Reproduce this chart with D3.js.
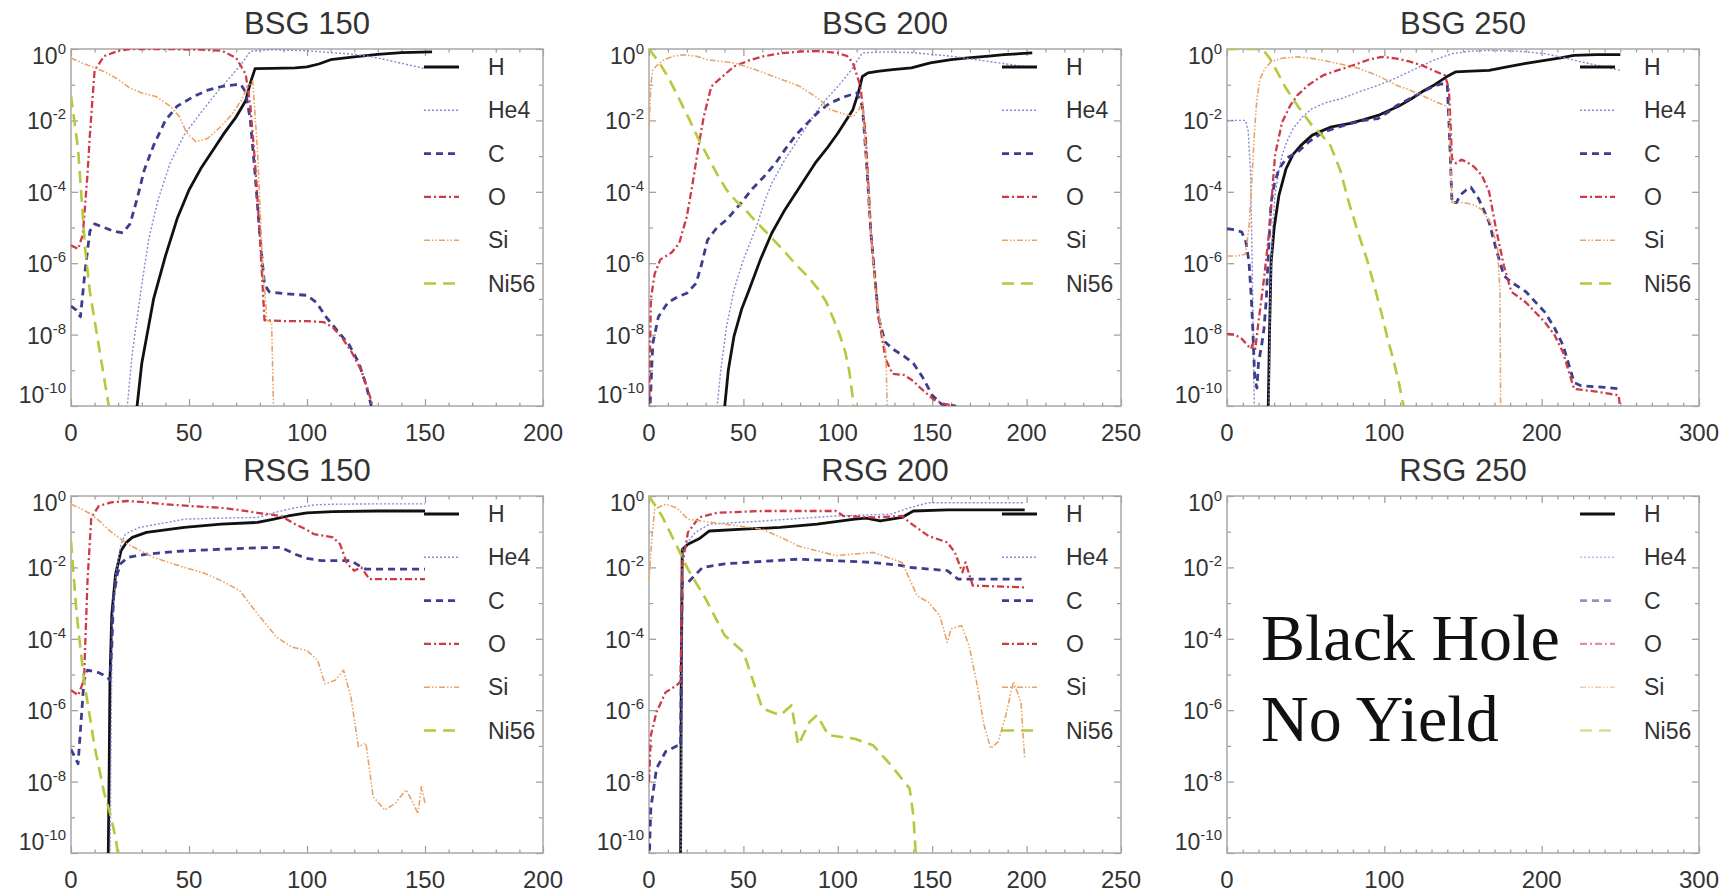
<!DOCTYPE html>
<html><head><meta charset="utf-8">
<script src="https://cdn.jsdelivr.net/npm/d3@7"></script>
<style>body{margin:0;background:#fff} svg{display:block}</style>
</head><body>
<svg id="chart" width="1735" height="894"></svg>
<script>
// ---------- DATA (x = mass coordinate, value = log10 mass fraction) ----------
const titles = ["BSG 150", "BSG 200", "BSG 250", "RSG 150", "RSG 200", "RSG 250"];
const xMaxes = [200, 250, 300, 200, 250, 300];
const xMajorSteps = [50, 50, 100, 50, 50, 100];
const species = ["H", "He4", "C", "O", "Si", "Ni56"];
const yTickExponents = [0, -2, -4, -6, -8, -10];
const noYieldText = ["Black Hole", "No Yield"];

// BSG 150
const bsg150H = [[27,-10.6],[30,-8.8],[35,-7.0],[40,-5.8],[45,-4.75],[50,-3.95],[55,-3.35],[60,-2.85],[65,-2.35],[70,-1.9],[74,-1.45],[76,-0.95],[78,-0.55],[85,-0.54],[95,-0.53],[100,-0.5],[105,-0.42],[110,-0.3],[120,-0.22],[130,-0.15],[140,-0.1],[153,-0.08]];
const bsg150He4 = [[23,-10.6],[26,-8.5],[30,-6.6],[33,-5.3],[37,-4.2],[42,-3.2],[48,-2.4],[56,-1.7],[62,-1.2],[68,-0.75],[73,-0.35],[76,-0.06],[85,-0.02],[100,-0.05],[110,-0.1],[120,-0.15],[130,-0.25],[140,-0.4],[150,-0.55]];
const bsg150C = [[0,-7.2],[2,-7.3],[4,-7.5],[6,-6.2],[8,-5.1],[10,-4.9],[14,-5.0],[18,-5.1],[22,-5.15],[25,-4.9],[28,-4.2],[31,-3.4],[35,-2.7],[40,-2.0],[45,-1.6],[52,-1.33],[58,-1.15],[64,-1.05],[70,-1.0],[72,-1.0],[74,-1.2],[76,-2.0],[78,-3.5],[80,-5.2],[82,-6.6],[84,-6.8],[90,-6.85],[100,-6.9],[104,-7.1],[108,-7.5],[113,-7.9],[118,-8.3],[122,-8.8],[125,-9.4],[128,-10.2],[130,-10.6]];
const bsg150O = [[0,-5.5],[3,-5.6],[5,-5.2],[7,-3.5],[8,-2.4],[10,-0.6],[14,-0.2],[20,-0.05],[25,0],[40,0],[55,-0.02],[64,-0.05],[70,-0.25],[74,-0.7],[76,-1.6],[78,-3.2],[80,-5.2],[82,-7.6],[90,-7.62],[100,-7.62],[107,-7.65],[111,-7.8],[115,-8.1],[119,-8.5],[123,-9.0],[127,-9.8],[130,-10.6]];
const bsg150Si = [[0,-0.25],[5,-0.4],[9,-0.5],[14,-0.63],[20,-0.85],[25,-1.1],[30,-1.23],[36,-1.33],[42,-1.6],[46,-1.9],[49,-2.35],[53,-2.6],[58,-2.5],[63,-2.2],[68,-1.85],[72,-1.45],[75,-1.05],[77,-0.9],[79,-2.8],[81,-5.8],[83,-7.6],[85,-7.65],[86,-10.6]];
const bsg150Ni56 = [[0,-1.3],[3,-2.8],[6,-5.6],[8,-6.8],[11,-8.0],[14,-9.2],[16,-10.0],[17,-10.6]];

// BSG 200
const bsg200H = [[39,-10.6],[42,-9.0],[45,-8.05],[49,-7.3],[53,-6.75],[59,-5.9],[65,-5.16],[72,-4.5],[80,-3.85],[88,-3.2],[94,-2.8],[100,-2.36],[105,-1.95],[108,-1.7],[111,-1.2],[113,-0.77],[116,-0.67],[122,-0.62],[129,-0.58],[139,-0.53],[149,-0.39],[160,-0.3],[169,-0.25],[180,-0.2],[188,-0.16],[203,-0.11]];
const bsg200He4 = [[35,-10.6],[38,-9.0],[41,-7.8],[45,-6.75],[50,-5.9],[57,-4.97],[61,-4.3],[65,-3.76],[72,-3.1],[80,-2.45],[88,-1.8],[94,-1.4],[100,-1.05],[107,-0.6],[113,-0.11],[125,-0.08],[139,-0.1],[160,-0.2],[180,-0.35],[200,-0.5]];
const bsg200C = [[0,-10.6],[1,-9.5],[2,-8.25],[5,-7.5],[10,-7.1],[15,-6.95],[20,-6.84],[25,-6.56],[28,-6.0],[31,-5.35],[36,-5.0],[41,-4.79],[49,-4.3],[55,-3.9],[61,-3.57],[67,-3.2],[72,-2.82],[78,-2.4],[84,-2.07],[90,-1.75],[96,-1.51],[104,-1.33],[110,-1.23],[113,-1.6],[115,-3.0],[117.6,-5.2],[121.5,-7.5],[125,-8.2],[129,-8.4],[135,-8.6],[140,-8.8],[145,-9.2],[150,-9.7],[155,-9.95],[162,-10.0],[166,-10.6]];
const bsg200O = [[0,-10.6],[0.5,-8.5],[1,-7.0],[3,-6.3],[6,-5.9],[12,-5.7],[16,-5.44],[20,-4.7],[23,-3.8],[26,-2.8],[29,-1.9],[33,-1.05],[37,-0.86],[45,-0.49],[53,-0.32],[61,-0.2],[70,-0.12],[80,-0.07],[90,-0.06],[100,-0.11],[105,-0.2],[108,-0.39],[112,-1.05],[114.7,-2.36],[117.6,-5.2],[121.5,-7.5],[125.4,-8.7],[129,-9.1],[135,-9.13],[140,-9.3],[143,-9.46],[151,-9.83],[157,-9.95],[163,-10.0],[166,-10.6]];
const bsg200Si = [[0,-2.2],[1,-1.0],[2,-0.58],[5,-0.42],[8,-0.3],[13,-0.2],[18,-0.16],[25,-0.2],[31,-0.3],[45,-0.39],[55,-0.55],[61,-0.67],[70,-0.85],[80,-1.05],[90,-1.4],[96,-1.7],[102,-1.8],[108,-1.9],[111,-1.7],[113,-1.5],[115,-3.0],[117.6,-5.2],[120,-6.8],[123.5,-8.0],[125.5,-8.5],[126.4,-10.6]];
const bsg200Ni56 = [[0,0],[5,-0.35],[10,-0.77],[16,-1.4],[21.6,-2.0],[26,-2.5],[31,-3.0],[36,-3.5],[41,-3.94],[46,-4.25],[51,-4.5],[56,-4.8],[61,-5.07],[67,-5.4],[72.5,-5.72],[78,-6.05],[84,-6.37],[90,-6.75],[94,-7.1],[98,-7.6],[101,-8.0],[104,-8.5],[106,-9.0],[108,-9.8],[109,-10.6]];

// BSG 250
const bsg250H = [[26,-10.6],[27,-8.0],[28,-6.0],[30,-5.0],[33,-4.1],[37.5,-3.36],[42,-2.95],[47,-2.7],[54,-2.42],[60,-2.3],[65.7,-2.19],[77.5,-2.09],[87,-1.98],[96,-1.86],[103,-1.72],[110,-1.58],[117,-1.4],[124,-1.2],[132,-1.0],[141,-0.74],[145.5,-0.64],[155,-0.62],[166.6,-0.6],[178,-0.5],[190,-0.4],[202,-0.32],[212,-0.25],[220.6,-0.18],[235,-0.16],[250,-0.16]];
const bsg250He4 = [[0,-2.0],[6,-2.0],[11.7,-2.0],[13.5,-2.3],[15,-3.5],[16,-6],[17,-9],[17.6,-10.6],[26.5,-10.6],[27.5,-7.0],[29,-5.0],[30.5,-4.1],[33,-3.4],[35,-2.98],[38,-2.6],[42,-2.23],[48,-1.9],[54,-1.67],[63,-1.5],[72.8,-1.39],[84,-1.2],[96,-1.02],[108,-0.8],[120,-0.55],[131,-0.32],[143,-0.13],[155,-0.06],[166.6,-0.04],[185,-0.06],[202,-0.13],[215,-0.25],[225,-0.36],[240,-0.5],[250,-0.6]];
const bsg250C = [[0,-5.04],[5,-5.06],[9.4,-5.13],[12,-5.4],[14,-5.97],[15.5,-7.0],[16.4,-7.84],[17.6,-9.2],[19,-9.5],[20,-8.8],[22,-8.3],[23.5,-7.84],[25,-7.0],[26,-6.0],[28,-4.3],[30,-3.8],[33,-3.36],[38,-3.05],[44.6,-2.9],[52,-2.6],[61,-2.33],[70,-2.2],[77.5,-2.1],[87,-2.0],[96,-1.95],[103,-1.75],[108,-1.58],[115,-1.42],[120,-1.3],[125,-1.18],[131,-1.05],[136,-0.98],[140,-0.98],[141.5,-2.5],[143,-4.3],[146,-4.3],[148,-4.1],[152,-3.95],[155,-3.87],[160,-4.2],[166.6,-4.85],[171,-5.6],[176,-6.35],[180.7,-6.53],[190,-6.8],[202,-7.37],[208,-7.8],[213.6,-8.3],[217,-8.8],[220.6,-9.34],[225,-9.43],[240,-9.48],[250,-9.52]];
const bsg250O = [[0,-7.98],[5,-8.0],[9.4,-8.12],[13,-8.3],[15.3,-8.4],[16.4,-8.25],[18,-8.4],[20,-7.65],[23.5,-6.44],[27,-5.04],[30.5,-2.98],[35,-2.05],[40,-1.6],[44.6,-1.3],[52,-1.0],[61,-0.74],[70,-0.6],[80,-0.46],[90,-0.3],[98.6,-0.22],[108,-0.27],[116,-0.35],[124,-0.46],[131,-0.6],[138.5,-0.74],[141,-1.1],[142,-2.0],[143,-3.07],[145.5,-3.2],[149,-3.1],[152.6,-3.17],[157,-3.3],[162,-3.54],[166.6,-4.0],[171,-5.04],[176,-6.07],[180.7,-6.8],[190,-7.1],[202,-7.65],[208,-8.0],[213.6,-8.5],[217,-9.0],[220.6,-9.52],[235,-9.6],[249,-9.7],[251,-10.6]];
const bsg250Si = [[0,-5.8],[6,-5.8],[11.7,-5.75],[14,-5.0],[16,-3.5],[17.6,-2.23],[19,-1.4],[21,-0.83],[24,-0.55],[28,-0.36],[35,-0.26],[44.6,-0.22],[55,-0.27],[61,-0.32],[72,-0.42],[84.5,-0.55],[96,-0.75],[108,-1.02],[116,-1.15],[124,-1.3],[131,-1.45],[138.5,-1.58],[141,-1.7],[143,-4.3],[150,-4.3],[156,-4.35],[162,-4.5],[168,-4.9],[172,-5.6],[173.5,-6.8],[174,-10.6]];
const bsg250Ni56 = [[0,0],[10,0],[18,0],[23.5,-0.05],[27,-0.25],[32,-0.65],[37.5,-1.1],[45,-1.6],[54,-2.14],[60,-2.4],[65.7,-2.7],[72,-3.4],[77.5,-4.3],[83,-5.1],[89,-5.9],[94,-6.7],[98.6,-7.47],[102,-8.1],[105.6,-8.68],[109,-9.3],[112.7,-10.1],[114,-10.6]];

// RSG 150
const rsg150H = [[15.7,-10.6],[16.2,-7.5],[16.5,-5.16],[17.3,-3.3],[18.9,-2.19],[21.2,-1.53],[23.5,-1.3],[26,-1.16],[32,-1.02],[40,-0.95],[48,-0.88],[63.6,-0.79],[79,-0.74],[86,-0.65],[92,-0.56],[100,-0.47],[111,-0.44],[130,-0.42],[150,-0.42]];
const rsg150He4 = [[16.5,-10.6],[17,-6.5],[17.5,-3.5],[19,-2.19],[21,-1.4],[23,-1.07],[29,-0.88],[40,-0.75],[48,-0.65],[63.6,-0.62],[79,-0.6],[87,-0.45],[95,-0.33],[103,-0.25],[111,-0.23],[130,-0.22],[150,-0.22]];
const rsg150C = [[0,-7.1],[3,-7.5],[5.5,-5.16],[7,-4.88],[11.8,-4.95],[15,-5.05],[16.5,-5.16],[17.3,-4.2],[18,-2.84],[19.6,-2.19],[21,-1.9],[24,-1.72],[32,-1.63],[45,-1.55],[63.6,-1.49],[80,-1.45],[89,-1.44],[95,-1.63],[100,-1.75],[106,-1.81],[112,-1.81],[118.6,-1.81],[122,-1.95],[125,-2.05],[150,-2.05]];
const rsg150O = [[0,-5.44],[3,-5.58],[5.5,-5.16],[7,-2.37],[8.6,-0.6],[11.8,-0.28],[17,-0.18],[24,-0.14],[32,-0.18],[40,-0.23],[50,-0.28],[63.6,-0.33],[72,-0.4],[79,-0.47],[89,-0.56],[95,-0.79],[100,-0.95],[103,-1.07],[108,-1.12],[111,-1.16],[114,-1.35],[117,-1.9],[120,-2.09],[123,-2.0],[126.5,-2.33],[150,-2.33]];
const rsg150Si = [[0,-0.23],[4,-0.35],[8.6,-0.51],[12,-0.7],[16.5,-0.98],[24,-1.35],[35,-1.72],[48,-2.0],[56,-2.15],[63.6,-2.37],[71.5,-2.65],[79,-3.3],[84,-3.7],[87,-3.95],[93.5,-4.23],[100,-4.33],[104.5,-4.6],[107.6,-5.26],[112,-5.16],[115.5,-4.88],[118.6,-5.63],[121.8,-7.02],[125,-6.93],[128,-8.42],[133,-8.8],[137.5,-8.6],[142,-8.23],[145,-8.6],[147,-8.9],[148.5,-8.14],[150,-8.6]];
const rsg150Ni56 = [[0,-1.26],[2.4,-3.3],[5.5,-5.16],[10,-7.02],[14,-8.3],[16.5,-8.88],[19,-9.6],[21,-10.6]];

// RSG 200
const rsg200H = [[16.7,-10.6],[17.1,-5],[17.6,-1.5],[20.6,-1.35],[26.5,-1.2],[32,-0.98],[50,-0.93],[69.6,-0.88],[89,-0.79],[109,-0.65],[115,-0.62],[122.5,-0.7],[134,-0.6],[140,-0.42],[158,-0.39],[199,-0.39]];
const rsg200He4 = [[16.9,-10.6],[17.3,-5],[17.6,-1.5],[24.5,-1.02],[32,-0.79],[60,-0.7],[99,-0.56],[128,-0.51],[138,-0.33],[148,-0.19],[199,-0.19]];
const rsg200C = [[0,-10.6],[0.5,-9.5],[1,-8.74],[4,-7.63],[8.8,-7.16],[14.7,-7.0],[16.7,-7.0],[17.6,-2.42],[20.6,-2.42],[28.4,-2.0],[40,-1.9],[79,-1.77],[118.6,-1.86],[134,-1.95],[138,-2.0],[158,-2.09],[163.7,-2.33],[199,-2.33]];
const rsg200O = [[0,-8.0],[1,-6.7],[4,-6.05],[8.8,-5.5],[14.7,-5.3],[16.7,-5.2],[17.6,-1.95],[20.6,-1.02],[26.5,-0.6],[36,-0.47],[60,-0.42],[99,-0.42],[103,-0.56],[118.6,-0.6],[134,-0.56],[138,-0.74],[148,-1.12],[158,-1.3],[162,-1.58],[166,-2.14],[167.6,-1.86],[171.5,-2.51],[199,-2.56]];
const rsg200Si = [[0,-2.4],[1.5,-1.2],[3,-0.37],[8.8,-0.23],[14.7,-0.33],[20.6,-0.65],[40,-0.79],[60,-0.93],[71.5,-1.2],[79,-1.4],[99,-1.67],[118.6,-1.58],[134,-1.86],[142,-2.79],[148,-2.98],[154,-3.35],[158,-4.1],[160,-3.72],[165.6,-3.63],[169.5,-4.19],[173.5,-5.2],[177.4,-6.4],[181,-7.07],[185,-6.88],[189,-6.14],[193,-5.2],[197,-5.77],[199,-7.35]];
const rsg200Ni56 = [[0,0],[6.9,-0.56],[14.7,-1.4],[20.6,-2.05],[30,-2.88],[40,-3.9],[50,-4.37],[60,-5.95],[69.6,-6.14],[75.5,-5.86],[79,-6.98],[85,-6.33],[89,-6.14],[95,-6.7],[109,-6.8],[118.6,-6.98],[128,-7.53],[138,-8.19],[140,-8.93],[142,-10.6]];

// RSG 250: black hole, no yield
const rsg250H = [], rsg250He4 = [], rsg250C = [], rsg250O = [], rsg250Si = [], rsg250Ni56 = [];

const panelSeries = [
  [bsg150H, bsg150He4, bsg150C, bsg150O, bsg150Si, bsg150Ni56],
  [bsg200H, bsg200He4, bsg200C, bsg200O, bsg200Si, bsg200Ni56],
  [bsg250H, bsg250He4, bsg250C, bsg250O, bsg250Si, bsg250Ni56],
  [rsg150H, rsg150He4, rsg150C, rsg150O, rsg150Si, rsg150Ni56],
  [rsg200H, rsg200He4, rsg200C, rsg200O, rsg200Si, rsg200Ni56],
  [rsg250H, rsg250He4, rsg250C, rsg250O, rsg250Si, rsg250Ni56]
];

// ---------- STYLE ----------
const colors = ["#111111", "#8787d8", "#3d3d8e", "#cf3a48", "#eba264", "#b7c83c"];
const dashes = [null, "2,2", "7,5", "7,3,2,3", "6,2,1.5,2,1.5,2", "12,7"];
const widths = [2.8, 1.4, 2.8, 2.3, 1.6, 2.6];
const FONT = "'Liberation Sans', Arial, Helvetica, sans-serif";
const TXT = "#333";

const svg = d3.select("#chart");
const panelLefts = [71, 649, 1227];
const panelTops = [49, 496];
const W = 472, H = 357;

titles.forEach((title, i) => {
  const col = i % 3, row = Math.floor(i / 3);
  const x0 = panelLefts[col], y0 = panelTops[row];
  const g = svg.append("g").attr("transform", `translate(${x0},${y0})`);
  const xMax = xMaxes[i];
  const x = d3.scaleLinear().domain([0, xMax]).range([0, W]);
  const y = d3.scaleLog().domain([1e-10, 1]).range([H, 0]);

  const cid = "clip" + i;
  g.append("clipPath").attr("id", cid).append("rect").attr("width", W).attr("height", H);

  g.append("text").attr("x", W / 2).attr("y", -15).attr("text-anchor", "middle")
    .attr("font-family", FONT).attr("font-size", 31).attr("fill", TXT).text(title);

  const majors = d3.range(0, xMax + 0.1, xMajorSteps[i]);
  const minors = d3.range(0, xMax + 0.1, 10).filter(v => !majors.includes(v));
  const yMajors = yTickExponents.map(e => Math.pow(10, e));
  const yMinors = [-1, -3, -5, -7, -9].map(e => Math.pow(10, e));
  const tickStyle = sel => { sel.select(".domain").remove(); sel.selectAll("line").attr("stroke", "#9a9a9a").attr("stroke-width", 1.2); sel.selectAll("text").remove(); };

  g.append("g").attr("transform", `translate(0,${H})`).call(d3.axisBottom(x).tickValues(majors).tickSize(-7).tickFormat("")).call(tickStyle);
  g.append("g").attr("transform", `translate(0,${H})`).call(d3.axisBottom(x).tickValues(minors).tickSize(-3.5).tickFormat("")).call(tickStyle);
  g.append("g").call(d3.axisTop(x).tickValues(majors).tickSize(-7).tickFormat("")).call(tickStyle);
  g.append("g").call(d3.axisTop(x).tickValues(minors).tickSize(-3.5).tickFormat("")).call(tickStyle);
  g.append("g").call(d3.axisLeft(y).tickValues(yMajors).tickSize(-7).tickFormat("")).call(tickStyle);
  g.append("g").call(d3.axisLeft(y).tickValues(yMinors).tickSize(-4).tickFormat("")).call(tickStyle);
  g.append("g").attr("transform", `translate(${W},0)`).call(d3.axisRight(y).tickValues(yMajors).tickSize(-7).tickFormat("")).call(tickStyle);
  g.append("g").attr("transform", `translate(${W},0)`).call(d3.axisRight(y).tickValues(yMinors).tickSize(-4).tickFormat("")).call(tickStyle);

  g.append("rect").attr("width", W).attr("height", H).attr("fill", "none")
    .attr("stroke", "#a8a8a8").attr("stroke-width", 1.5);

  majors.forEach(v => {
    g.append("text").attr("x", x(v)).attr("y", H + 35).attr("text-anchor", "middle")
      .attr("font-family", FONT).attr("font-size", 24).attr("fill", TXT).text(v);
  });
  yTickExponents.forEach((e, k) => {
    let off = 9;
    if (k === 0) off = 15;
    if (k === yTickExponents.length - 1) off = -3;
    const t = g.append("text").attr("x", -5).attr("y", y(Math.pow(10, e)) + off)
      .attr("text-anchor", "end").attr("font-family", FONT).attr("fill", TXT);
    t.append("tspan").attr("font-size", 23).text("10");
    t.append("tspan").attr("font-size", 15).attr("dy", -10).text(e === 0 ? "0" : "-" + Math.abs(e));
  });

  const line = d3.line().x(d => x(d[0])).y(d => y(Math.pow(10, d[1])));
  const lg = g.append("g").attr("clip-path", `url(#${cid})`);
  panelSeries[i].forEach((data, s) => {
    if (!data.length) return;
    lg.append("path").attr("d", line(data)).attr("fill", "none")
      .attr("stroke", colors[s]).attr("stroke-width", widths[s])
      .attr("stroke-dasharray", dashes[s]).attr("stroke-linejoin", "round");
  });

  species.forEach((name, s) => {
    const ly = 18 + s * 43.3;
    g.append("line").attr("x1", 353).attr("x2", 388).attr("y1", ly).attr("y2", ly)
      .attr("stroke", colors[s]).attr("stroke-width", widths[s]).attr("stroke-dasharray", dashes[s])
      .attr("opacity", (i === 5 && s > 0) ? 0.55 : 1);
    g.append("text").attr("x", 417).attr("y", ly).attr("dy", "0.35em")
      .attr("font-family", FONT).attr("font-size", 23).attr("fill", TXT).text(name);
  });

  if (i === 5) {
    noYieldText.forEach((t, k) => {
      g.append("text").attr("x", 34).attr("y", 164 + k * 81)
        .attr("font-family", "'Liberation Serif', 'Times New Roman', serif")
        .attr("font-size", 66).attr("fill", "#111").text(t);
    });
  }
});
</script>
</body></html>
